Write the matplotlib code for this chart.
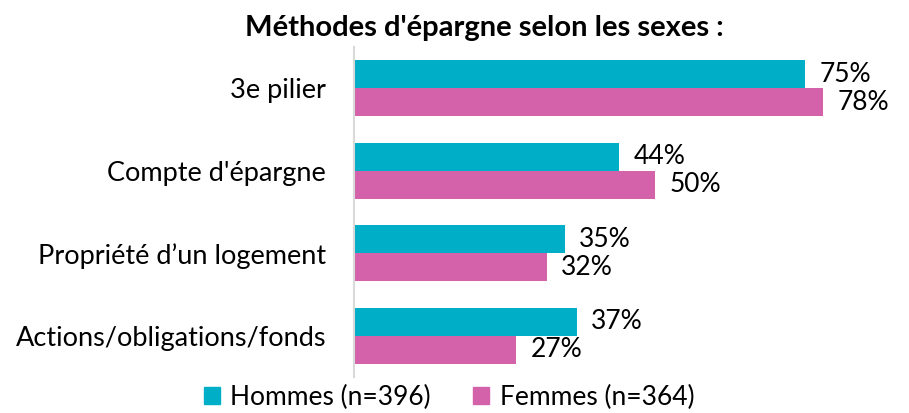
import matplotlib.pyplot as plt
from matplotlib.patches import Patch

categories = ["3e pilier", "Compte d'épargne", "Propriété d’un logement", "Actions/obligations/fonds"]
hommes = [75, 44, 35, 37]
femmes = [78, 50, 32, 27]
series_names = ["Hommes (n=396)", "Femmes (n=364)"]

teal = "#00AEC7"
pink = "#D462AB"

plt.rcParams['font.family'] = ['Lato', 'DejaVu Sans']

fig = plt.figure(figsize=(9.09, 4.13), dpi=100)
ax = fig.add_axes([0.3894, 0.087, 0.596, 0.799])

ypos = list(range(len(categories)))
h = 0.34
ax.barh([y - h / 2 for y in ypos], hommes, height=h, color=teal)
ax.barh([y + h / 2 for y in ypos], femmes, height=h, color=pink)

for y, v in zip(ypos, hommes):
    ax.text(v + 2.4, y - h / 2, f"{v}%", va='center', ha='left', fontsize=19)
for y, v in zip(ypos, femmes):
    ax.text(v + 2.4, y + h / 2, f"{v}%", va='center', ha='left', fontsize=19)

ax.set_xlim(0, 90)
ax.set_ylim(3.5, -0.5)
ax.set_yticks(ypos)
ax.set_yticklabels(categories, fontsize=19.5)
ax.tick_params(axis='y', length=0, pad=20)
ax.set_xticks([])
for s in ['top', 'right', 'bottom']:
    ax.spines[s].set_visible(False)
ax.spines['left'].set_color('#d9d9d9')
ax.spines['left'].set_linewidth(1.5)

fig.text(0.533, 0.932, "Méthodes d'épargne selon les sexes :", ha='center', va='center',
         fontsize=21, fontweight='bold')

handles = [Patch(color=teal), Patch(color=pink)]
fig.legend(handles, series_names, loc='center', bbox_to_anchor=(0.494, 0.038), ncol=2,
           frameon=False, fontsize=19, handlelength=0.6, handleheight=0.6,
           handletextpad=0.4, columnspacing=1.6)

plt.savefig('out.png', dpi=100)
